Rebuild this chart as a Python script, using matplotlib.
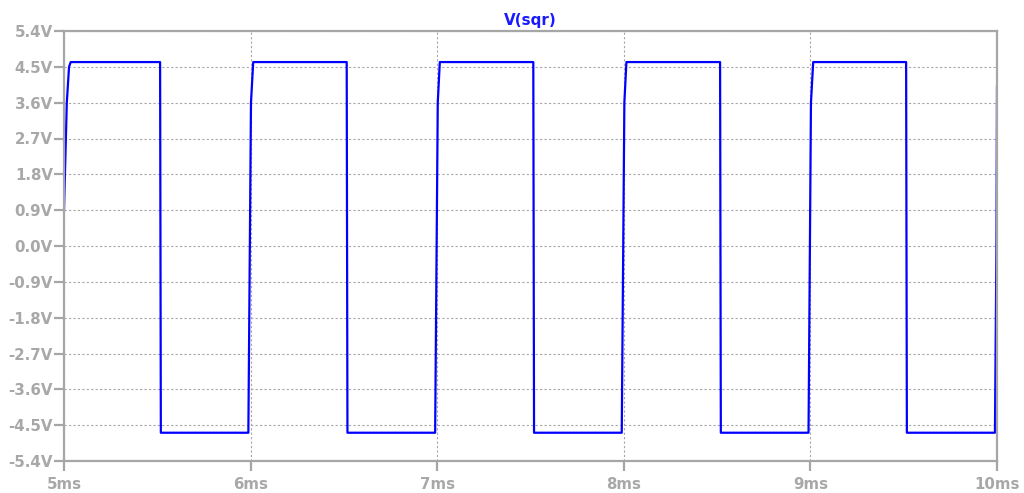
import matplotlib
matplotlib.use("Agg")
import matplotlib.pyplot as plt
import numpy as np

# waveform breakpoints (time in ms, voltage in V)
v_high = 4.62
v_low = -4.69
# first partial rise at the window start
start_t = [5.0, 5.015, 5.027, 5.036]
start_v = [0.9, 3.6, 4.5, v_high]
# full periods: falling edge then rising edge
fall_times = [5.515, 6.515, 7.515, 8.516, 9.513]
rise_starts = [5.988, 6.989, 7.989, 8.990, 9.989]
rise_mid = [6.002, 7.003, 8.003, 9.003, 9.997]
rise_ends = [6.014, 7.014, 8.014, 9.015]
# final partial rise at the window end
end_t = 10.0
end_v = 4.0

xticks = [5, 6, 7, 8, 9, 10]
xticklabels = ['5ms', '6ms', '7ms', '8ms', '9ms', '10ms']
yticks = [5.4, 4.5, 3.6, 2.7, 1.8, 0.9, 0.0, -0.9, -1.8, -2.7, -3.6, -4.5, -5.4]
yticklabels = ['5.4V', '4.5V', '3.6V', '2.7V', '1.8V', '0.9V', '0.0V', '-0.9V',
               '-1.8V', '-2.7V', '-3.6V', '-4.5V', '-5.4V']

# build the piecewise-linear trace from the breakpoints
t = list(start_t)
v = list(start_v)
for i in range(len(fall_times)):
    t += [fall_times[i], fall_times[i] + 0.004]
    v += [v_high, v_low]
    t += [rise_starts[i], rise_mid[i]]
    v += [v_low, 3.6 if i < len(rise_ends) else 0.0]
    if i < len(rise_ends):
        t += [rise_ends[i]]
        v += [v_high]
t += [end_t]
v += [end_v]

grey = '#a6a6a6'
plt.rcParams['font.family'] = ['DejaVu Sans']

fig = plt.figure(figsize=(10.24, 4.93), dpi=100)
ax = fig.add_axes([64 / 1024, 32 / 493, 933 / 1024, 430 / 493])

ax.plot(t, v, color='#0000ff', linewidth=1.6)

ax.set_xlim(5, 10)
ax.set_ylim(-5.4, 5.4)
ax.set_xticks(xticks)
ax.set_xticklabels(xticklabels)
ax.set_yticks(yticks)
ax.set_yticklabels(yticklabels)

ax.grid(True, color=grey, linestyle=(0, (2, 2)), linewidth=0.8)
for s in ax.spines.values():
    s.set_color(grey)
    s.set_linewidth(1.6)
ax.tick_params(axis='both', colors=grey, length=7.5, width=1.6, labelsize=10.8)
ax.tick_params(axis='x', pad=4)
ax.tick_params(axis='y', pad=0.5)
for lab in ax.get_xticklabels() + ax.get_yticklabels():
    lab.set_fontweight('bold')
    lab.set_color('#a8a8a8')

ax.set_title('V(sqr)', color='#1a1aff', fontweight='bold', fontsize=10.9, pad=4)

plt.savefig('out.png', dpi=100)
